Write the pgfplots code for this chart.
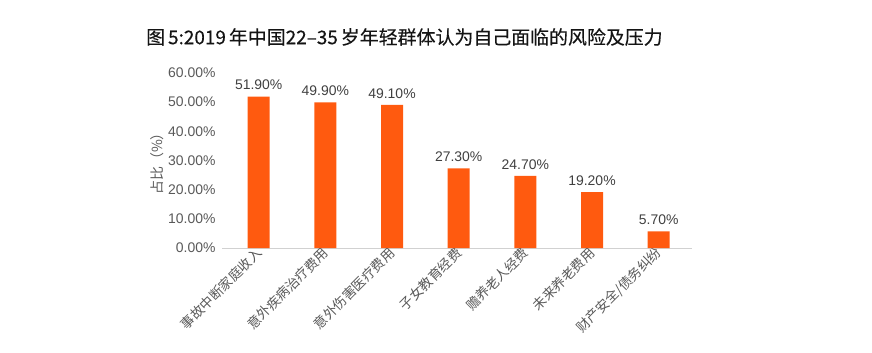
\documentclass[border=0pt]{standalone}
\usepackage{pgfplots}
\pgfplotsset{compat=1.18}
\usepackage{fontspec}
\setmainfont{Liberation Sans}
\newfontfamily\cjk{Noto Sans CJK SC}
\newfontfamily\cjktitle[FakeBold=0.3]{Noto Sans CJK SC}
\definecolor{barc}{HTML}{FF5A0F}
\definecolor{tickc}{HTML}{595959}
\definecolor{labc}{HTML}{404040}
\begin{document}
\begin{tikzpicture}[x=1bp,y=1bp]
\path[use as bounding box] (0,0) rectangle (872,352);
\node[anchor=west, inner sep=0pt, font=\cjktitle\fontsize{19}{22}\selectfont, text=black!92] at (146,315) {图\kern3bp 5:2019\kern3bp 年中国22–35\kern3bp 岁年轻群体认为自己面临的风险及压力};
\begin{axis}[at={(222bp,104bp)}, anchor=south west, scale only axis,
  width=470bp, height=175bp,
  ymin=0, ymax=60, xmin=-0.55, xmax=6.5,
  axis x line*=bottom, axis y line*=left,
  axis line style={-},
  x axis line style={draw=black!18, line width=0.8bp},
  y axis line style={draw=none},
  major tick length=0pt,
  ytick={0,10,20,30,40,50,60},
  yticklabels={0.00\%,10.00\%,20.00\%,30.00\%,40.00\%,50.00\%,60.00\%},
  yticklabel style={font=\fontsize{14}{16}\selectfont, text=tickc, xshift=-3bp},
  xtick={0,1,2,3,4,5,6},
  xticklabels={事故中断家庭收入,意外疾病治疗费用,意外伤害医疗费用,子女教育经费,赡养老人经费,未来养老费用,财产安全/债务纠纷},
  xticklabel style={font=\cjk\fontsize{13.5}{16}\selectfont, text=tickc, rotate=45, anchor=east, xshift=2bp, yshift=-2bp},
  ylabel={\cjk 占比（\%）},
  ylabel style={font=\fontsize{14}{16}\selectfont, text=tickc, yshift=-3bp},
  ybar, bar width=22bp,
  nodes near coords={\pgfmathprintnumber[fixed,fixed zerofill,precision=2,assume math mode=true]{\pgfplotspointmeta}\%},
  every node near coord/.append style={font=\fontsize{14}{16}\selectfont, text=labc, yshift=3bp},
]
\addplot[fill=barc, draw=none] coordinates {(0,51.9) (1,49.9) (2,49.1) (3,27.3) (4,24.7) (5,19.2) (6,5.7)};
\end{axis}
\end{tikzpicture}
\end{document}
